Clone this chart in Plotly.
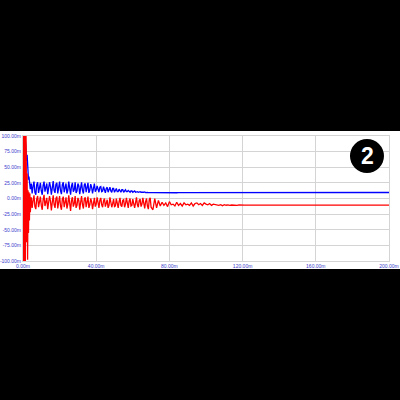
import plotly.graph_objects as go

# Segment sampling: (start ms, step ms); values typed per segment
seg_a = (0.0, 0.25)
seg_b = (4.5, 0.5)
seg_c = (71.0, 1.0)
seg_d = (140.0, 10.0)

azul_a = [100, 100, 95, 100, 90, 95, 85, 73, 60, 70, 45, 50, 30, 35, 22, 28, 15]
rojo_a = [130, -130, 130, -130, 130, -130, 130, 80, -70, 40, -98, 13, -55, 10, -35, 8, -22]

azul_b = [24, 8, 20, 27, 10, 6, 22, 26, 9, 15,
          25, 12, 6, 21, 27, 11, 18, 24, 7, 14,
          26, 19, 6, 17, 28, 13, 9, 23, 25, 8,
          16, 27, 12, 7, 22, 26, 10, 18, 24, 8,
          13, 27, 17, 6, 20, 25, 11, 14, 26, 9,
          12, 24, 20, 7, 17, 26, 13, 8, 22, 24,
          10, 16, 25, 9, 13, 23, 18, 8, 19, 24,
          11, 14,
          20, 13, 10, 18, 19, 11, 12, 19, 15, 9,
          16, 18, 10, 13, 18, 12, 10, 16, 16, 10,
          13, 16, 11, 11, 15, 13, 10, 14, 14, 10,
          12, 14, 11, 11, 13, 12, 10, 12, 12, 10,
          11, 12, 10, 11, 11, 10, 10.5, 11, 10, 10.5,
          10, 10, 10.5, 9.5, 10, 9.8, 9.5, 9.8, 9.5, 9.5]
rojo_b = [2, -15, -3, 5, -13, -17, -1, 4, -14, -8,
          3, -11, -18, -2, 6, -12, -5, 1, -17, -9,
          4, -4, -19, -6, 5, -10, -15, 0, 3, -16,
          -7, 4, -12, -18, -1, 3, -14, -5, 2, -16,
          -9, 5, -6, -20, -3, 2, -13, -8, 4, -15,
          -11, 1, -3, -18, -6, 4, -10, -16, -1, 2,
          -14, -7, 3, -15, -10, 0, -5, -17, -4, 1,
          -13, -9,
          2, -12, -15, -3, 1, -10, -14, -4, 0, -13,
          -9, -2, -15, -11, 2, -6, -14, -8, -1, -13,
          -12, 0, -7, -15, -5, 1, -11, -13, -3, -2,
          -14, -9, 1, -8, -15, -4, 0, -12, -11, -1,
          -6, -15, -7, 2, -10, -14, -3, -1, -13, -9,
          1, -8, -16, -5, 0, -12, -17, -2, 1, -14]

azul_c = [9.4, 9.3, 9.5, 9.3, 9.4, 9.3, 9.3, 9.4, 9.2, 9.3,
          9.3, 9.4, 9.3, 9.2, 9.3, 9.3, 9.3, 9.2, 9.3, 9.3,
          9.2, 9.3, 9.3, 9.2, 9.3, 9.3, 9.2, 9.3, 9.3, 9.3,
          9.3, 9.3, 9.3, 9.3, 9.3, 9.3, 9.3, 9.3, 9.3, 9.3,
          9.3, 9.4, 9.5, 9.6, 9.6, 9.7, 9.6, 9.7, 9.6, 9.7,
          9.6, 9.7, 9.6, 9.7, 9.6, 9.7, 9.6, 9.7, 9.6, 9.7]
rojo_c = [-18, 0, -15, -3,
          -12, -6, -11, -7, -13, -5, -10, -9, -12, -6,
          -11, -8, -12, -7, -10, -9, -11, -7, -12, -8,
          -7, -10, -8, -11, -7, -9, -10, -8, -11, -9, -10,
          -10, -11, -10, -11.5, -9.8, -10.8, -10.2, -11,
          -10.4, -10.8, -10, -10.9, -10.3, -10.7, -10.5, -10.6,
          -10.6, -10.7, -10.6, -10.7, -10.6, -10.7, -10.7, -10.7, -10.7]

azul_d = [9.6, 9.6, 9.6, 9.6, 9.6, 9.6, 9.6]
rojo_d = [-10.7, -10.7, -10.7, -10.7, -10.7, -10.7, -10.7]

y_ticks = [100, 75, 50, 25, 0, -25, -50, -75, -100]
y_labels = ["100.00m", "75.00m", "50.00m", "25.00m", "0.00m",
            "-25.00m", "-50.00m", "-75.00m", "-100.00m"]
x_ticks = [0, 40, 80, 120, 160, 200]
x_labels = ["0.00m", "40.00m", "80.00m", "120.00m", "160.00m", "200.00m"]


def armar_serie(segmentos):
    xs, ys = [], []
    for (inicio, paso), vals in segmentos:
        xs += [inicio + i * paso for i in range(len(vals))]
        ys += vals
    return xs, ys


x_azul, y_azul = armar_serie([(seg_a, azul_a), (seg_b, azul_b), (seg_c, azul_c), (seg_d, azul_d)])
x_rojo, y_rojo = armar_serie([(seg_a, rojo_a), (seg_b, rojo_b), (seg_c, rojo_c), (seg_d, rojo_d)])

fig = go.Figure()
fig.add_trace(go.Scatter(x=x_azul, y=y_azul, mode="lines",
                         line=dict(color="#0000ff", width=1.3)))
fig.add_trace(go.Scatter(x=x_rojo, y=y_rojo, mode="lines",
                         line=dict(color="#ff0000", width=1.3)))

fuente_ejes = dict(family="Arial", size=5, color="#3c3ccc")
fig.update_xaxes(range=[0, 200], tickvals=x_ticks, ticktext=x_labels,
                 showgrid=True, gridcolor="#d4d4d4", gridwidth=1, zeroline=False,
                 showline=True, linecolor="#d4d4d4", mirror=True,
                 tickfont=fuente_ejes, ticks="", automargin=False)
fig.update_yaxes(range=[-100, 100], tickvals=y_ticks, ticktext=y_labels,
                 showgrid=True, gridcolor="#d4d4d4", gridwidth=1, zeroline=False,
                 showline=True, linecolor="#d4d4d4", mirror=True,
                 tickfont=fuente_ejes, ticks="", automargin=False)

# white band behind the chart, black badge with the number
fig.add_shape(type="rect", xref="paper", yref="paper", x0=-0.07, x1=1.04,
              y0=-0.064, y1=1.04, fillcolor="white", line_width=0, layer="below")
fig.add_shape(type="circle", xref="paper", yref="paper", x0=0.8934, x1=0.9863,
              y0=0.704, y1=0.976, fillcolor="black", line_width=0, layer="above")
fig.add_annotation(text="<b>2</b>", xref="paper", yref="paper", x=0.9399, y=0.84,
                   xanchor="center", yanchor="middle", showarrow=False,
                   font=dict(family="Arial", size=23, color="white"))

fig.update_layout(
    width=400, height=400,
    paper_bgcolor="black", plot_bgcolor="white",
    showlegend=False,
    margin=dict(t=136, b=139, l=23, r=11, autoexpand=False)
)
# no page margin so the 400x400 figure fills the window
fig.write_html("out.html", config={"displayModeBar": False},
               post_script="document.body.style.margin='0';")
